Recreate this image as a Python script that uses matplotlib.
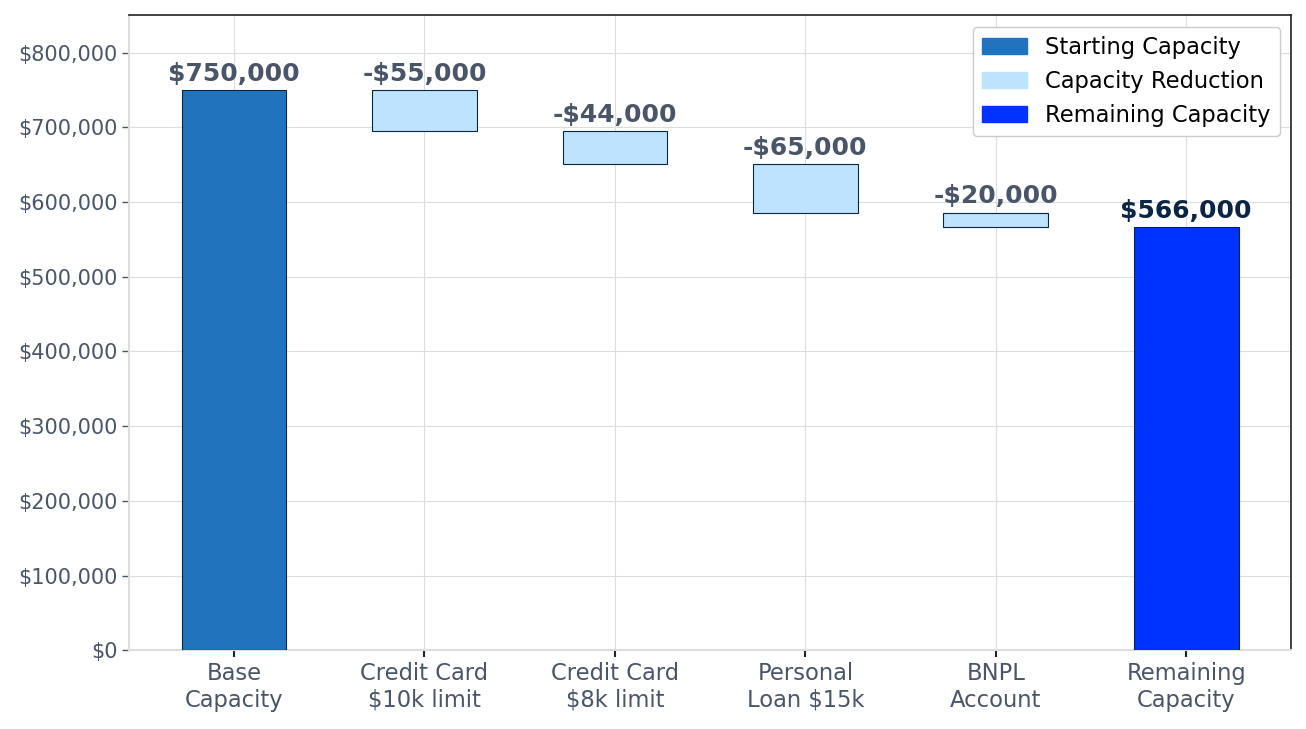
import numpy as np
import matplotlib
matplotlib.use('Agg')
import matplotlib.pyplot as plt
from matplotlib.patches import Patch
from matplotlib.ticker import FuncFormatter

# Data
categories = ['Base\nCapacity', 'Credit Card\n$10k limit', 'Credit Card\n$8k limit',
              'Personal\nLoan $15k', 'BNPL\nAccount', 'Remaining\nCapacity']
start_value = 750000
reductions = [55000, 44000, 65000, 20000]
end_value = start_value - sum(reductions)

# Colours
c_start = '#1f74bd'
c_reduce = '#bde3ff'
c_end = '#0033ff'
c_edge = '#0b2545'
c_text = '#4a5568'

fig, ax = plt.subplots(figsize=(13.06, 7.29), dpi=100)
fig.subplots_adjust(left=0.099, right=0.9885, top=0.979, bottom=0.108)

x = np.arange(len(categories))
width = 0.55

# starting bar
ax.bar(x[0], start_value, width, color=c_start, edgecolor=c_edge, linewidth=0.8, zorder=3)
ax.annotate('${:,.0f}'.format(start_value), (x[0], start_value), xytext=(0, 3),
            textcoords='offset points', ha='center', va='bottom',
            fontsize=18, fontweight='bold', color=c_text)

# reductions
running = start_value
for i, r in enumerate(reductions):
    bottom = running - r
    ax.bar(x[i + 1], r, width, bottom=bottom, color=c_reduce, edgecolor=c_edge,
           linewidth=0.8, zorder=3)
    ax.annotate('-${:,.0f}'.format(r), (x[i + 1], running), xytext=(0, 3),
                textcoords='offset points', ha='center', va='bottom',
                fontsize=18, fontweight='bold', color=c_text)
    running = bottom

# remaining bar
ax.bar(x[-1], end_value, width, color=c_end, edgecolor=c_edge, linewidth=0.8, zorder=3)
ax.annotate('${:,.0f}'.format(end_value), (x[-1], end_value), xytext=(0, 3),
            textcoords='offset points', ha='center', va='bottom',
            fontsize=18, fontweight='bold', color=c_edge)

ax.set_xlim(-0.55, len(categories) - 0.45)
ax.set_ylim(0, 850000)
ax.set_yticks(np.arange(0, 800001, 100000))
ax.yaxis.set_major_formatter(FuncFormatter(lambda v, p: '${:,.0f}'.format(v)))
ax.set_xticks(x)
ax.set_xticklabels(categories)
ax.tick_params(axis='x', labelsize=16.3, labelcolor=c_text, color='#222222', length=5, width=1.5)
ax.tick_params(axis='y', labelsize=15, labelcolor=c_text, color=c_text, length=5, width=1)

ax.grid(True, color='#dddddd', linewidth=0.8, zorder=0)
ax.set_axisbelow(True)
for s in ['left', 'bottom']:
    ax.spines[s].set_color('#dddddd')
    ax.spines[s].set_linewidth(1.5)
for s in ['top', 'right']:
    ax.spines[s].set_color('#222222')
    ax.spines[s].set_linewidth(1.2)

handles = [Patch(color=c_start, label='Starting Capacity'),
           Patch(color=c_reduce, label='Capacity Reduction'),
           Patch(color=c_end, label='Remaining Capacity')]
leg = ax.legend(handles=handles, loc='upper right', fontsize=16.3, framealpha=1,
                edgecolor='#cccccc', handlelength=2, borderpad=0.4)

plt.savefig('out.png', dpi=100)
